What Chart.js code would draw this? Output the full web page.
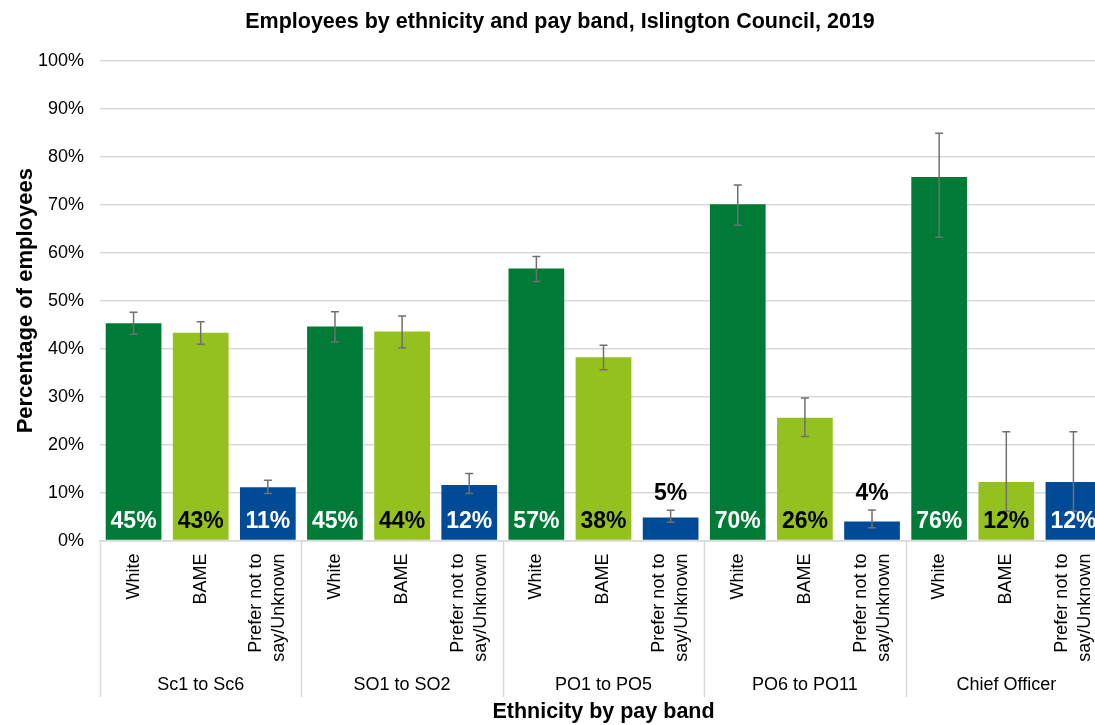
<!DOCTYPE html>
<html>
<head>
<meta charset="utf-8">
<script src="https://cdn.jsdelivr.net/npm/chart.js@4.4.1/dist/chart.umd.min.js"></script>
<style>
  html, body { margin: 0; padding: 0; background: #fff; overflow: hidden; }
  #wrap { width: 1110px; height: 725px; }
</style>
</head>
<body>
<div id="wrap"><canvas id="myChart"></canvas></div>
<script>
// pay bands (outer x labels) and ethnicity groups (inner x labels)
const payBands = ['Sc1 to Sc6', 'SO1 to SO2', 'PO1 to PO5', 'PO6 to PO11', 'Chief Officer'];
const ethnicities = ['White', 'BAME', ['Prefer not to', 'say/Unknown']];

// % of employees per pay band
const white   = [45.3, 44.6, 56.7, 70.1, 75.8];
const bame    = [43.3, 43.6, 38.2, 25.6, 12.2];
const unknown = [11.1, 11.6, 4.8, 4.0, 12.2];

// error bar ends (low / high)
const whiteLow    = [43.0, 41.4, 54.0, 65.7, 63.2];
const whiteHigh   = [47.6, 47.7, 59.2, 74.1, 84.9];
const bameLow     = [40.9, 40.2, 35.6, 21.7, 6.1];
const bameHigh    = [45.6, 46.8, 40.7, 29.7, 22.7];
const unknownLow  = [9.8, 9.8, 3.8, 2.7, 6.1];
const unknownHigh = [12.6, 14.0, 6.3, 6.4, 22.7];

const yTicks = [0, 10, 20, 30, 40, 50, 60, 70, 80, 90, 100];

const colores = ['#007A37', '#95C11F', '#004B98'];
const colorTexto = ['#ffffff', '#000000', '#ffffff'];
const FONT = '"Liberation Sans", Arial, sans-serif';

// flatten: for each pay band -> White, BAME, Unknown
const valores = payBands.flatMap((b, i) => [white[i], bame[i], unknown[i]]);
const bajos = payBands.flatMap((b, i) => [whiteLow[i], bameLow[i], unknownLow[i]]);
const altos = payBands.flatMap((b, i) => [whiteHigh[i], bameHigh[i], unknownHigh[i]]);
const etiquetas = payBands.flatMap(() => ethnicities);
const fondo = payBands.flatMap(() => colores);

// rotated inner labels, error bars, value labels, band separators
const extrasPlugin = {
  id: 'extras',
  afterDatasetsDraw(chart) {
    const ctx = chart.ctx;
    const y = chart.scales.y;
    const meta = chart.getDatasetMeta(0);

    ctx.save();
    // error bars
    ctx.strokeStyle = '#707070';
    ctx.lineWidth = 1.5;
    meta.data.forEach((bar, i) => {
      const yl = y.getPixelForValue(bajos[i]);
      const yh = y.getPixelForValue(altos[i]);
      ctx.beginPath();
      ctx.moveTo(bar.x, yl); ctx.lineTo(bar.x, yh);
      ctx.moveTo(bar.x - 4, yl); ctx.lineTo(bar.x + 4, yl);
      ctx.moveTo(bar.x - 4, yh); ctx.lineTo(bar.x + 4, yh);
      ctx.stroke();
    });

    // value labels
    ctx.font = 'bold 23px ' + FONT;
    ctx.textAlign = 'center';
    ctx.textBaseline = 'alphabetic';
    meta.data.forEach((bar, i) => {
      const txt = Math.round(valores[i]) + '%';
      if (valores[i] < 8) {
        ctx.fillStyle = '#000';
        ctx.fillText(txt, bar.x, y.getPixelForValue(altos[i]) - 10);
      } else {
        ctx.fillStyle = colorTexto[i % 3];
        ctx.fillText(txt, bar.x, bar.base - 12);
      }
    });
    ctx.restore();
  },
  afterDraw(chart) {
    const ctx = chart.ctx;
    const x = chart.scales.x;
    const x2 = chart.scales.x2;

    ctx.save();
    // inner rotated labels
    ctx.font = '18px ' + FONT;
    ctx.fillStyle = '#000';
    ctx.textAlign = 'right';
    ctx.textBaseline = 'middle';
    etiquetas.forEach((lab, i) => {
      const lines = Array.isArray(lab) ? lab : [lab];
      const px = x.getPixelForValue(i);
      ctx.save();
      ctx.translate(px, x.top + 13);
      ctx.rotate(-Math.PI / 2);
      lines.forEach((ln, j) => {
        ctx.fillText(ln, 0, (j - (lines.length - 1) / 2) * 23);
      });
      ctx.restore();
    });

    // band separators
    ctx.strokeStyle = '#d9d9d9';
    ctx.lineWidth = 1.5;
    const paso = x.width / etiquetas.length;
    for (let k = 0; k <= etiquetas.length; k += 3) {
      const px = Math.round(x.left + k * paso) + 0.5;
      ctx.beginPath();
      ctx.moveTo(px, x.top);
      ctx.lineTo(px, x2.bottom - 28);
      ctx.stroke();
    }
    ctx.restore();
  }
};

new Chart(document.getElementById('myChart'), {
  type: 'bar',
  data: {
    labels: etiquetas,
    datasets: [{
      data: valores,
      backgroundColor: fondo,
      borderWidth: 0,
      barPercentage: 0.83,
      categoryPercentage: 1
    }]
  },
  options: {
    responsive: true,
    maintainAspectRatio: false,
    animation: false,
    layout: { padding: { left: 13, right: 3, top: 0, bottom: 0 } },
    plugins: {
      legend: { display: false },
      tooltip: { enabled: false },
      title: {
        display: true,
        text: 'Employees by ethnicity and pay band, Islington Council, 2019',
        color: '#000',
        font: { family: FONT, size: 21.5, weight: 'bold' },
        padding: { top: 9, bottom: 26 }
      }
    },
    scales: {
      x: {
        type: 'category',
        offset: true,
        grid: { display: false },
        border: { display: true, color: '#d9d9d9', width: 1.5 },
        ticks: { display: false },
        afterFit(scale) { scale.height = 123; }
      },
      x2: {
        type: 'category',
        labels: payBands,
        position: 'bottom',
        offset: true,
        grid: { display: false },
        border: { display: false },
        ticks: { color: '#000', font: { family: FONT, size: 18 }, padding: 3 },
        title: {
          display: true,
          text: 'Ethnicity by pay band',
          color: '#000',
          font: { family: FONT, size: 21.5, weight: 'bold' },
          padding: { top: 0, bottom: 0 }
        }
      },
      y: {
        min: 0,
        max: 100,
        afterBuildTicks(scale) { scale.ticks = yTicks.map(v => ({ value: v })); },
        afterFit(scale) { scale.width = 87; },
        grid: { color: '#d9d9d9', lineWidth: 1.5, drawTicks: false },
        border: { display: false },
        ticks: {
          color: '#000',
          font: { family: FONT, size: 18 },
          padding: 16,
          callback: (v) => v + '%'
        },
        title: {
          display: true,
          text: 'Percentage of employees',
          color: '#000',
          font: { family: FONT, size: 22, weight: 'bold' },
          padding: { top: 0, bottom: 0 }
        }
      }
    }
  },
  plugins: [extrasPlugin]
});
</script>
</body>
</html>
